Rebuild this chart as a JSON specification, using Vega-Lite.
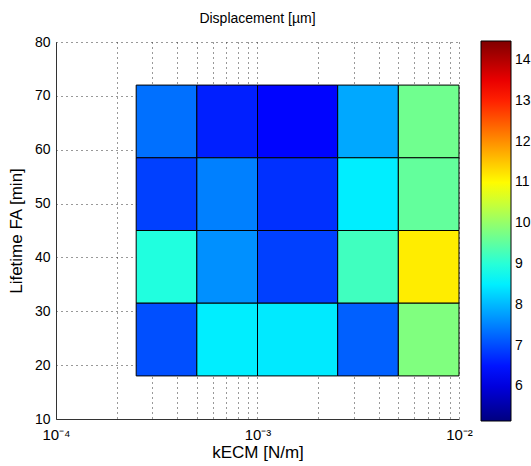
{
  "$schema": "https://vega.github.io/schema/vega-lite/v6.json",
  "autosize": "none",
  "padding": {"left": 56, "top": 42, "right": 72, "bottom": 47},
  "width": 403,
  "height": 377,
  "background": "white",
  "config": {
    "font": "Liberation Sans",
    "view": {"stroke": null},
    "axis": {
      "domainColor": "#333333",
      "tickColor": "#333333",
      "labelColor": "#000000",
      "titleColor": "#000000",
      "labelFont": "Liberation Sans",
      "titleFont": "Liberation Sans",
      "titleFontWeight": "normal",
      "labelFontSize": 14,
      "titleFontSize": 17,
      "grid": true,
      "gridDash": [1, 4],
      "gridColor": "#333333",
      "gridOpacity": 1,
      "gridWidth": 1
    }
  },
  "title": {
    "text": "Displacement [µm]",
    "fontSize": 14,
    "fontWeight": "normal",
    "font": "Liberation Sans",
    "color": "#000000",
    "offset": 9,
    "anchor": "middle"
  },
  "data": {
    "values": [
      {"x0": 0.00025, "x1": 0.0005, "y0": 58.5, "y1": 72, "v": 7.34},
      {"x0": 0.0005, "x1": 0.001, "y0": 58.5, "y1": 72, "v": 6.6},
      {"x0": 0.001, "x1": 0.0025, "y0": 58.5, "y1": 72, "v": 6.35},
      {"x0": 0.0025, "x1": 0.005, "y0": 58.5, "y1": 72, "v": 7.85},
      {"x0": 0.005, "x1": 0.01, "y0": 58.5, "y1": 72, "v": 9.67},
      {"x0": 0.00025, "x1": 0.0005, "y0": 45, "y1": 58.5, "v": 6.9},
      {"x0": 0.0005, "x1": 0.001, "y0": 45, "y1": 58.5, "v": 7.48},
      {"x0": 0.001, "x1": 0.0025, "y0": 45, "y1": 58.5, "v": 6.75},
      {"x0": 0.0025, "x1": 0.005, "y0": 45, "y1": 58.5, "v": 8.49},
      {"x0": 0.005, "x1": 0.01, "y0": 45, "y1": 58.5, "v": 9.55},
      {"x0": 0.00025, "x1": 0.0005, "y0": 31.5, "y1": 45, "v": 8.94},
      {"x0": 0.0005, "x1": 0.001, "y0": 31.5, "y1": 45, "v": 7.63},
      {"x0": 0.001, "x1": 0.0025, "y0": 31.5, "y1": 45, "v": 6.9},
      {"x0": 0.0025, "x1": 0.005, "y0": 31.5, "y1": 45, "v": 9.23},
      {"x0": 0.005, "x1": 0.01, "y0": 31.5, "y1": 45, "v": 11.14},
      {"x0": 0.00025, "x1": 0.0005, "y0": 18, "y1": 31.5, "v": 7.04},
      {"x0": 0.0005, "x1": 0.001, "y0": 18, "y1": 31.5, "v": 8.49},
      {"x0": 0.001, "x1": 0.0025, "y0": 18, "y1": 31.5, "v": 8.45},
      {"x0": 0.0025, "x1": 0.005, "y0": 18, "y1": 31.5, "v": 7.19},
      {"x0": 0.005, "x1": 0.01, "y0": 18, "y1": 31.5, "v": 9.81}
    ]
  },
  "mark": {"type": "rect", "stroke": "#000000", "strokeWidth": 1},
  "encoding": {
    "x": {
      "field": "x0",
      "type": "quantitative",
      "scale": {"type": "log", "domain": [0.0001, 0.01], "nice": false},
      "axis": {
        "title": "kECM [N/m]",
        "values": [0.0001, 0.0002, 0.0003, 0.0004, 0.0005, 0.0006, 0.0007, 0.0008, 0.0009, 0.001, 0.002, 0.003, 0.004, 0.005, 0.006, 0.007, 0.008, 0.009, 0.01],
        "labelExpr": "datum.value == 0.0001 ? '10⁻⁴' : datum.value == 0.001 ? '10⁻³' : datum.value == 0.01 ? '10⁻²' : ''",
        "labelOverlap": false,
        "labelBound": false,
        "labelFlush": false,
        "labelFontSize": 15,
        "ticks": false,
        "labelPadding": 8,
        "titlePadding": 2
      }
    },
    "x2": {"field": "x1"},
    "y": {
      "field": "y0",
      "type": "quantitative",
      "scale": {"domain": [10, 80], "nice": false, "zero": false},
      "axis": {
        "title": "Lifetime FA [min]",
        "values": [10, 20, 30, 40, 50, 60, 70, 80],
        "ticks": false,
        "labelPadding": 6,
        "titlePadding": 9,
        "labelOverlap": false,
        "labelBound": false,
        "labelFlush": false
      }
    },
    "y2": {"field": "y1"},
    "color": {
      "field": "v",
      "type": "quantitative",
      "scale": {
        "type": "linear",
        "domain": [5.15, 6.315, 8.645, 10.975, 13.305, 14.47],
        "range": ["#000080", "#0000ff", "#00ffff", "#ffff00", "#ff0000", "#800000"],
        "interpolate": "rgb",
        "clamp": true
      },
      "legend": {
        "type": "gradient",
        "orient": "none",
        "legendX": 425,
        "legendY": -1,
        "direction": "vertical",
        "title": null,
        "gradientLength": 380,
        "gradientThickness": 30,
        "gradientStrokeColor": "#000000",
        "gradientStrokeWidth": 1,
        "values": [6, 7, 8, 9, 10, 11, 12, 13, 14],
        "labelFontSize": 14,
        "labelFont": "Liberation Sans",
        "labelColor": "#000000",
        "labelOffset": 4,
        "labelOverlap": false
      }
    }
  }
}
